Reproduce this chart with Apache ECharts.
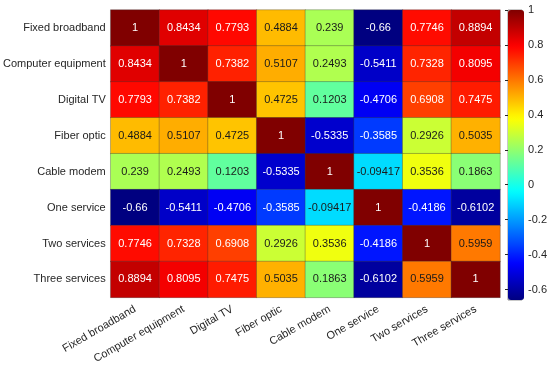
<!DOCTYPE html>
<html><head><meta charset="utf-8">
<script src="https://cdn.jsdelivr.net/npm/echarts@6/dist/echarts.min.js"></script>
<style>html,body{margin:0;padding:0;background:#fff}#c{width:550px;height:366px}</style>
</head><body><div id="c"></div>
<script>
var categories = ['Fixed broadband','Computer equipment','Digital TV','Fiber optic','Cable modem','One service','Two services','Three services'];
var rowFixedBroadband   = [1, 0.8434, 0.7793, 0.4884, 0.239, -0.66, 0.7746, 0.8894];
var rowComputerEquip    = [0.8434, 1, 0.7382, 0.5107, 0.2493, -0.5411, 0.7328, 0.8095];
var rowDigitalTV        = [0.7793, 0.7382, 1, 0.4725, 0.1203, -0.4706, 0.6908, 0.7475];
var rowFiberOptic       = [0.4884, 0.5107, 0.4725, 1, -0.5335, -0.3585, 0.2926, 0.5035];
var rowCableModem       = [0.239, 0.2493, 0.1203, -0.5335, 1, -0.09417, 0.3536, 0.1863];
var rowOneService       = [-0.66, -0.5411, -0.4706, -0.3585, -0.09417, 1, -0.4186, -0.6102];
var rowTwoServices      = [0.7746, 0.7328, 0.6908, 0.2926, 0.3536, -0.4186, 1, 0.5959];
var rowThreeServices    = [0.8894, 0.8095, 0.7475, 0.5035, 0.1863, -0.6102, 0.5959, 1];
var colorbarTicks = [-0.6, -0.4, -0.2, 0, 0.2, 0.4, 0.6, 0.8, 1];
var cmin = -0.66, cmax = 1;

var rows = [rowFixedBroadband,rowComputerEquip,rowDigitalTV,rowFiberOptic,rowCableModem,rowOneService,rowTwoServices,rowThreeServices];
var data = [];
rows.forEach(function(r, yi){ r.forEach(function(v, xi){ data.push([xi, yi, v]); }); });

function clamp(a){return Math.max(0, Math.min(1, a));}
var jet = [];
for (var i = 0; i < 64; i++) {
  var t = i / 63;
  var r = clamp(1.5 - Math.abs(4*t - 3)), g = clamp(1.5 - Math.abs(4*t - 2)), b = clamp(1.5 - Math.abs(4*t - 1));
  jet.push('rgb(' + Math.round(r*255) + ',' + Math.round(g*255) + ',' + Math.round(b*255) + ')');
}
function textColor(v){ return (v >= 0.65 || v <= -0.3) ? '#ffffff' : '#1a1a1a'; }

var chart = echarts.init(document.getElementById('c'), null, {renderer:'canvas'});
chart.setOption({
  animation: false,
  textStyle: {fontFamily: 'Liberation Sans, Arial, sans-serif'},
  grid: [
    {left: 106, top: 10, width: 394, height: 289, containLabel: false},
    {left: 508, top: 10, width: 16, height: 290, show: true, borderColor: '#262626', borderWidth: 0.5, backgroundColor: 'transparent'}
  ],
  xAxis: [
    {type: 'category', data: categories, gridIndex: 0,
     axisLine: {show: false}, axisTick: {show: false}, splitLine: {show: false},
     axisLabel: {rotate: 30, fontSize: 11, color: '#262626', margin: 11, interval: 0}},
    {type: 'value', gridIndex: 1, show: false, min: 0, max: 1}
  ],
  yAxis: [
    {type: 'category', data: categories, gridIndex: 0, inverse: true,
     axisLine: {show: false}, axisTick: {show: false}, splitLine: {show: false},
     axisLabel: {fontSize: 11, color: '#262626', margin: 5, interval: 0}},
    {type: 'value', gridIndex: 1, position: 'right', min: cmin, max: cmax,
     axisLine: {show: false}, splitLine: {show: false},
     axisTick: {show: true, inside: true, length: 3, lineStyle: {color: '#262626'}, customValues: colorbarTicks},
     axisLabel: {fontSize: 11, color: '#262626', margin: 6, customValues: colorbarTicks,
       formatter: function(v){ return String(Math.round(v*10)/10); }}}
  ],
  visualMap: {
    type: 'continuous', min: cmin, max: cmax, seriesIndex: 0, show: true,
    calculable: false, text: ['', ''], padding: 0, itemWidth: 16, itemHeight: 290,
    left: 508, top: 10, inRange: {color: jet}, textStyle: {fontSize: 0}
  },
  series: [{
    type: 'heatmap', xAxisIndex: 0, yAxisIndex: 0,
    data: data.map(function(d){ return {value: d, label: {color: textColor(d[2])}}; }),
    itemStyle: {borderColor: 'rgba(50,50,50,0.55)', borderWidth: 0.6},
    label: {show: true, fontSize: 11,
      formatter: function(p){ return String(p.value[2]); }
    },
    emphasis: {disabled: true}
  }]
});
</script></body></html>
